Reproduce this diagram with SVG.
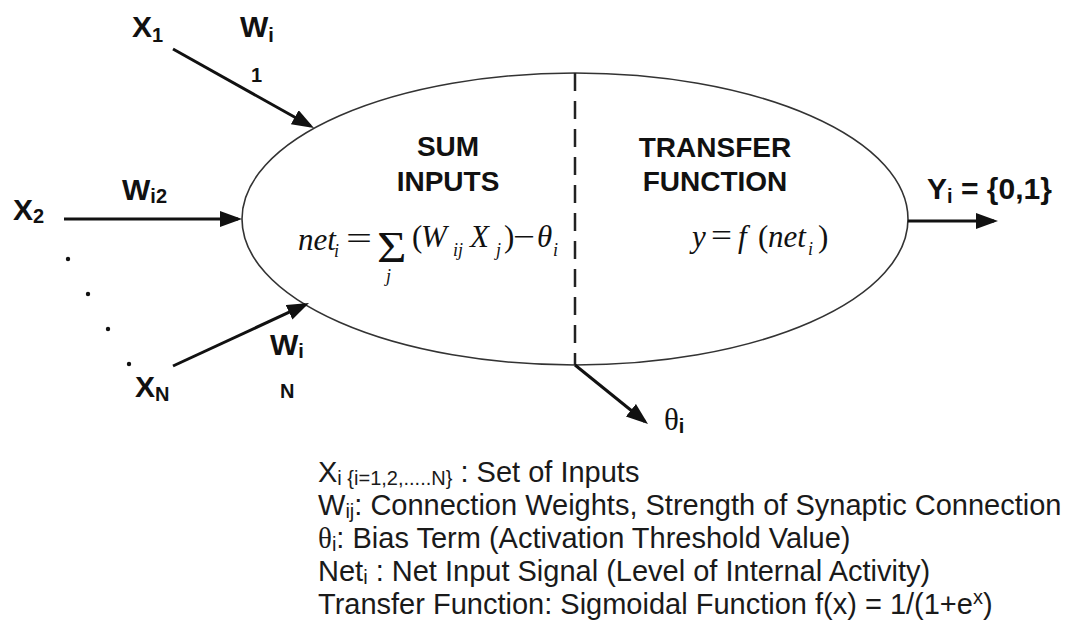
<svg xmlns="http://www.w3.org/2000/svg" width="1071" height="628" viewBox="0 0 1071 628">
<style>
.lbl{font-family:"Liberation Sans",Arial,sans-serif;font-weight:bold;fill:#111;}
.big{font-size:30px;}
.sub{font-size:20px;}
.head{font-family:"Liberation Sans",Arial,sans-serif;font-weight:bold;font-size:28px;fill:#111;text-anchor:middle;}
.math{font-family:"Liberation Serif","Times New Roman",serif;font-style:italic;font-size:31px;fill:#111;}
.mup{font-family:"Liberation Serif","Times New Roman",serif;font-style:normal;font-size:31px;fill:#111;}
.msub{font-family:"Liberation Serif","Times New Roman",serif;font-style:italic;font-size:18px;fill:#111;}
.sigma{font-family:"Liberation Serif","Times New Roman",serif;font-style:normal;font-size:44px;fill:#111;}
.leg{font-family:"Liberation Sans",Arial,sans-serif;font-size:29px;fill:#1a1a1a;}
.lsub{font-size:20px;}
.arrow{stroke:#111;stroke-width:3;fill:none;marker-end:url(#ah);}
</style>
<defs>
<marker id="ah" markerUnits="userSpaceOnUse" markerWidth="24" markerHeight="18" refX="18" refY="8" orient="auto">
<path d="M0,0 L22,8 L0,16 Z" fill="#111"/>
</marker>
</defs>
<rect width="1071" height="628" fill="#fff"/>

<g id="neuron">
<ellipse cx="575" cy="219" rx="333" ry="146" fill="none" stroke="#333" stroke-width="1.6"/>
<line x1="575" y1="73" x2="575" y2="365" stroke="#222" stroke-width="2.5" stroke-dasharray="18,10"/>
<text class="head" x="448" y="156">SUM</text>
<text class="head" x="448" y="191">INPUTS</text>
<text class="head" x="715" y="157">TRANSFER</text>
<text class="head" x="715" y="191">FUNCTION</text>
<g id="sum-formula">
<text class="math" x="298" y="250">net</text>
<text class="msub" x="334" y="257">i</text>
<text class="mup" x="346" y="249" textLength="26" lengthAdjust="spacingAndGlyphs">=</text>
<text class="sigma" transform="translate(377,262) scale(1.15,1)">Σ</text>
<text class="msub" x="386" y="282">j</text>
<text class="mup" x="412" y="247">(</text>
<text class="math" x="421" y="247">W</text>
<text class="msub" x="453" y="256">ij</text>
<text class="math" x="470" y="247">X</text>
<text class="msub" x="496" y="256">j</text>
<text class="mup" x="504" y="247">)</text>
<text class="mup" x="513" y="247" textLength="22" lengthAdjust="spacingAndGlyphs">−</text>
<text class="math" x="537" y="247">θ</text>
<text class="msub" x="553" y="256">i</text>
</g>
<g id="transfer-formula">
<text class="math" x="692" y="247">y</text>
<text class="mup" x="711" y="246" textLength="21" lengthAdjust="spacingAndGlyphs">=</text>
<text class="math" x="738" y="247">f</text>
<text class="mup" x="758" y="247">(</text>
<text class="math" x="768" y="247">net</text>
<text class="msub" x="808" y="255">i</text>
<text class="mup" x="818" y="247">)</text>
</g>
</g>

<g id="input-x1">
<text class="lbl big" x="132" y="37">X<tspan class="sub" dy="5">1</tspan></text>
<text class="lbl big" x="240" y="37">W<tspan class="sub" dy="5">i</tspan></text>
<text class="lbl sub" x="251" y="82">1</text>
</g>
<g id="input-x2">
<text class="lbl big" x="13" y="220">X<tspan class="sub" dy="3">2</tspan></text>
<text class="lbl big" x="122" y="200">W<tspan class="sub" dy="3">i2</tspan></text>
</g>
<g id="input-dots" fill="#111">
<circle cx="68" cy="259" r="2.2"/>
<circle cx="88" cy="294" r="2.2"/>
<circle cx="108" cy="329" r="2.2"/>
<circle cx="129" cy="364" r="2.2"/>
</g>
<g id="input-xn">
<text class="lbl big" x="135" y="397">X<tspan class="sub" dy="4">N</tspan></text>
<text class="lbl big" x="270" y="355">W<tspan class="sub" dy="3">i</tspan></text>
<text class="lbl sub" x="280" y="398">N</text>
</g>
<g id="output">
<text class="lbl big" x="927" y="199">Y<tspan class="sub" dy="4">i</tspan><tspan dy="-4"> = {0,1}</tspan></text>
</g>
<g id="bias">
<text x="664" y="430" font-family="Liberation Serif,serif" font-size="31" fill="#111">θ<tspan font-family="Liberation Sans,Arial,sans-serif" font-weight="bold" font-size="20" dy="3">i</tspan></text>
</g>

<g id="connectors">
<line class="arrow" x1="173" y1="49" x2="310.5" y2="126"/>
<line class="arrow" x1="64" y1="219" x2="238" y2="219"/>
<line class="arrow" x1="173" y1="366" x2="305.4" y2="304.7"/>
<line class="arrow" x1="908" y1="221" x2="994" y2="221"/>
<line class="arrow" x1="575" y1="365" x2="644.9" y2="421.5"/>
</g>

<g id="legend">
<text class="leg" x="318" y="482">X<tspan class="lsub" dy="3">i {i=1,2,.....N}</tspan><tspan dy="-3"> : Set of Inputs</tspan></text>
<text class="leg" x="318" y="515">W<tspan class="lsub" dy="3">ij</tspan><tspan dy="-3">: Connection Weights, Strength of Synaptic Connection</tspan></text>
<text class="leg" x="318" y="548"><tspan font-family="Liberation Serif,serif">θ</tspan><tspan class="lsub" dy="3">i</tspan><tspan dy="-3">: Bias Term (Activation Threshold Value)</tspan></text>
<text class="leg" x="318" y="581">Net<tspan class="lsub" dy="3">i</tspan><tspan dy="-3"> : Net Input Signal (Level of Internal Activity)</tspan></text>
<text class="leg" x="318" y="614">Transfer Function: Sigmoidal Function f(x) = 1/(1+e<tspan class="lsub" dy="-10">x</tspan><tspan dy="10">)</tspan></text>
</g>
</svg>
